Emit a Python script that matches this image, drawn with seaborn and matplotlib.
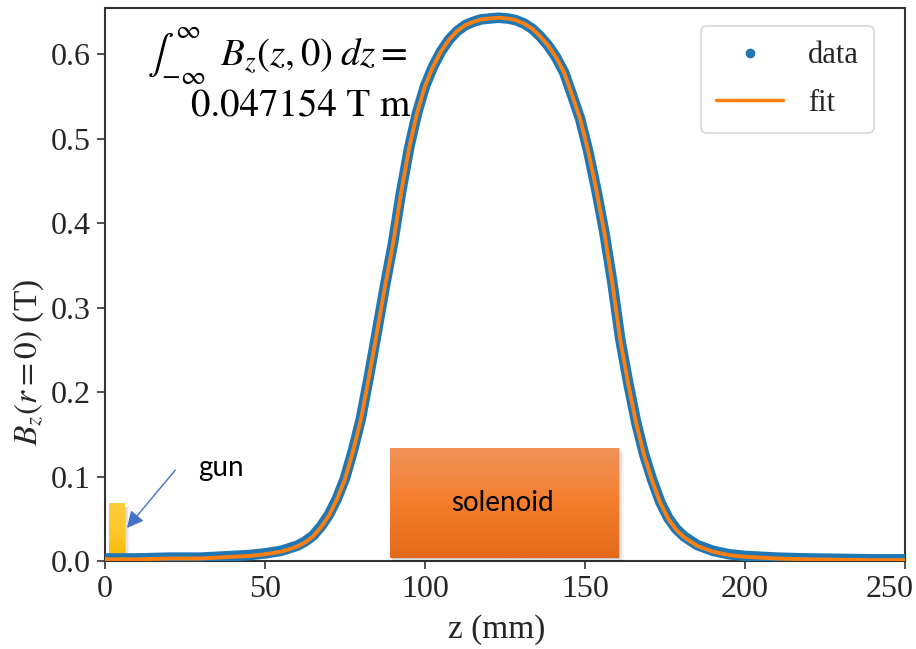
import numpy as np
import pandas as pd
import matplotlib
matplotlib.use("Agg")
import matplotlib.pyplot as plt
import matplotlib.transforms as mtransforms
import seaborn as sns
from matplotlib.lines import Line2D
from matplotlib.patches import Rectangle, FancyArrowPatch
from matplotlib.colors import LinearSegmentedColormap

# ---- data ----
z_mm = [0, 10, 20, 30, 40, 45, 50, 55, 60, 62.5, 65, 67.5, 70, 72.5, 75, 77.5,
        80, 82.5, 85, 87.5, 90, 92.5, 95, 97.5, 100, 102.5, 105, 107.5, 110,
        112.5, 115, 117.5, 120, 123, 126, 128.5, 131, 133.5, 136, 138.5, 141,
        143.5, 146, 148.5, 151, 153.5, 156, 158.5, 161, 163.5, 166, 168.5, 171,
        173.5, 176, 178.5, 181, 185, 190, 195, 200, 210, 220, 230, 240, 250]
bz_fit = [0.002, 0.002, 0.003, 0.003, 0.005, 0.006, 0.008, 0.011, 0.017, 0.022,
          0.029, 0.040, 0.054, 0.073, 0.097, 0.130, 0.168, 0.218, 0.271, 0.325,
          0.375, 0.435, 0.488, 0.530, 0.562, 0.585, 0.603, 0.617, 0.627, 0.634,
          0.638, 0.641, 0.642, 0.643, 0.642, 0.640, 0.636, 0.630, 0.621, 0.610,
          0.596, 0.578, 0.551, 0.523, 0.485, 0.440, 0.390, 0.330, 0.262, 0.210,
          0.163, 0.125, 0.095, 0.069, 0.050, 0.037, 0.028, 0.018, 0.011, 0.007,
          0.005, 0.003, 0.002, 0.0015, 0.001, 0.001]
bz_data = [0.003, 0.003, 0.004, 0.004, 0.006, 0.007, 0.009, 0.012, 0.018, 0.023,
           0.030, 0.041, 0.055, 0.074, 0.098, 0.131, 0.169, 0.219, 0.272, 0.326,
           0.376, 0.436, 0.488, 0.530, 0.562, 0.585, 0.603, 0.617, 0.627, 0.634,
           0.638, 0.641, 0.642, 0.643, 0.642, 0.640, 0.636, 0.630, 0.621, 0.610,
           0.596, 0.578, 0.551, 0.523, 0.485, 0.440, 0.390, 0.331, 0.263, 0.211,
           0.164, 0.126, 0.096, 0.070, 0.051, 0.038, 0.029, 0.019, 0.012, 0.008,
           0.006, 0.004, 0.003, 0.0025, 0.002, 0.002]

x_ticks = [0, 50, 100, 150, 200, 250]
y_ticks = [0.0, 0.1, 0.2, 0.3, 0.4, 0.5, 0.6]
integral_value = "0.047154"

gun_z = (1.2, 6.2)
gun_b = 0.0675
sol_z = (89.1, 160.6)
sol_b = (0.004, 0.134)

df = pd.DataFrame({"z": z_mm, "fit": bz_fit, "data": bz_data})

sns.set_theme(style="ticks")
plt.rcParams["font.family"] = ["Liberation Serif", "DejaVu Serif"]
plt.rcParams["mathtext.fontset"] = "stix"

fig = plt.figure(figsize=(9.16, 6.49), dpi=100)
ax = fig.add_axes([105 / 916, 88 / 649, 800 / 916, 553 / 649])

blue = "#1f77b4"
orange = "#ff7f0e"

sns.lineplot(data=df, x="z", y="data", ax=ax, color=blue, linewidth=7.6,
             solid_capstyle="round", solid_joinstyle="round", zorder=3)
sns.lineplot(data=df, x="z", y="fit", ax=ax, color=orange, linewidth=2.8,
             solid_joinstyle="round", zorder=4)

grad = np.linspace(0, 1, 64).reshape(-1, 1)

# gun block (gradient yellow)
gun_cmap = LinearSegmentedColormap.from_list("gun", ["#F5B800", "#FFC72C", "#FFCC3A"])
for k, a in enumerate([0.10, 0.07, 0.04]):
    ax.add_patch(Rectangle((gun_z[0] + 0.3 * (k + 1), -0.003), gun_z[1] - gun_z[0] + 0.4 * k,
                           gun_b, color="black", alpha=a, lw=0, zorder=1.5))
ax.imshow(grad, extent=(gun_z[0], gun_z[1], 0, gun_b), origin="lower",
          cmap=gun_cmap, aspect="auto", zorder=2)

# solenoid block (gradient orange) with soft shadow
sol_cmap = LinearSegmentedColormap.from_list("sol", ["#E36A18", "#F47E2C", "#F0915A"])
for k, a in enumerate([0.10, 0.07, 0.04]):
    ax.add_patch(Rectangle((sol_z[0] + 0.3 * (k + 1), sol_b[0] - 0.002 * (k + 1)),
                           sol_z[1] - sol_z[0] + 0.3 * k, sol_b[1] - sol_b[0],
                           color="black", alpha=a, lw=0, zorder=4.5))
ax.imshow(grad, extent=(sol_z[0], sol_z[1], sol_b[0], sol_b[1]), origin="lower",
          cmap=sol_cmap, aspect="auto", zorder=5)
ax.text((sol_z[0] + sol_z[1]) / 2 - 0.5, 0.069, "solenoid", family=["Lato", "DejaVu Sans"],
        fontsize=20, ha="center", va="center", color="black", zorder=6)

# gun label and arrow
ax.text(36.2, 0.110, "gun", family=["Lato", "DejaVu Sans"], fontsize=20,
        ha="center", va="center", color="black", zorder=6)
ax.add_patch(FancyArrowPatch((22.5, 0.110), (6.3, 0.0365), arrowstyle="-|>",
                             mutation_scale=25, color="#4472C4", lw=1.0, zorder=6))

# integral annotation
ax.text(94.5, 0.598, r"$\int_{-\infty}^{\infty}\;\;B_z(z,0)\;dz =$", fontsize=28,
        ha="right", va="center", color="black", zorder=6)
ax.text(95.5, 0.538, integral_value + r" T m", fontsize=28, family="STIXGeneral",
        ha="right", va="center", color="black", zorder=6)

ax.set_xlim(0, 250)
ax.set_ylim(0, 0.6545)
ax.set_xticks(x_ticks)
ax.set_yticks(y_ticks)
ax.set_xticklabels([str(t) for t in x_ticks])
ax.set_yticklabels([f"{t:.1f}" for t in y_ticks])
ax.tick_params(axis="both", labelsize=23, length=6, width=1.2, color="#333333",
               direction="out", pad=4)
# last x tick label sits slightly left of its tick, as in the reference
last = ax.get_xticklabels()[-1]
last.set_transform(last.get_transform() + mtransforms.ScaledTranslation(-15 / 100, 0, fig.dpi_scale_trans))
for s in ax.spines.values():
    s.set_visible(True)
    s.set_color("#333333")
    s.set_linewidth(1.5)

ax.set_xlabel("z (mm)", fontsize=24)
ax.xaxis.set_label_coords((497 - 105) / 800, -(614 - 561) / 553)
ax.set_ylabel(r"$B_z(r=0)$ (T)", fontsize=24)
ax.yaxis.set_label_coords(-(105 - 46) / 800, (561 - 362) / 553)

handles = [Line2D([], [], color=blue, marker="o", linestyle="none", markersize=6),
           Line2D([], [], color=orange, linewidth=2.5)]
leg = ax.legend(handles, ["data", "fit"], fontsize=22, loc="upper right",
                bbox_to_anchor=(874 / 916, (649 - 26) / 649),
                bbox_transform=fig.transFigure, borderaxespad=0, frameon=True,
                fancybox=True, handlelength=2.2, handletextpad=0.8,
                borderpad=0.5, labelspacing=0.6)
leg.get_frame().set_edgecolor("#cccccc")
leg.get_frame().set_linewidth(1.2)

fig.savefig("out.png", dpi=100)
